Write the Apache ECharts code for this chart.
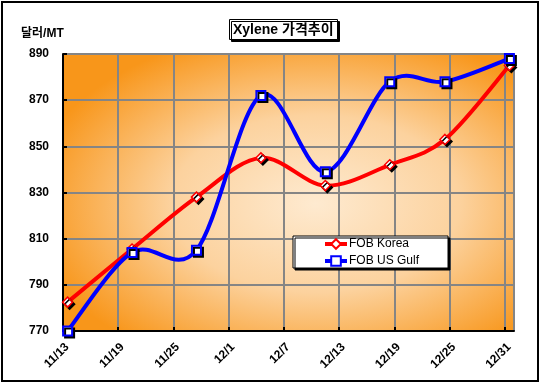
<!DOCTYPE html>
<html>
<head>
<meta charset="utf-8">
<script src="https://cdn.jsdelivr.net/npm/echarts@6/dist/echarts.min.js"></script>
<style>html,body{margin:0;padding:0;background:#fff;}#c{width:540px;height:383px;}</style>
</head>
<body>
<div id="c"></div>
<script>
const titleText = 'Xylene 가격추이';
const unitLabel = '달러/MT';
const tickLabels = ['11/13','11/19','11/25','12/1','12/7','12/13','12/19','12/25','12/31'];
const dates = ['11/13','11/20','11/27','12/4','12/11','12/18','12/24','12/31'];
const korea = [782.5, 805.5, 828, 845, 833, 842, 853, 885];
const usGulf = [770, 804, 805, 872, 839, 878, 878, 888];
const seriesNames = ['FOB Korea', 'FOB US Gulf'];
const seriesColors = ['#FF0000', '#0000FF'];

const startDay = new Date(2009, 10, 13);
function dayIndex(s) {
  const [m, d] = s.split('/').map(Number);
  const dt = new Date(2009, m - 1, d);
  return Math.round((dt - startDay) / 86400000);
}
const xs = dates.map(d => dayIndex(d) + 0.5);
const toPairs = arr => arr.map((v, i) => [xs[i], v]);

// Excel-like smoothed curve (Catmull-Rom, tension 1/6) through points mapped by the axes
function smoothCurve(values, color) {
  return function (params, api) {
    const p = values.map((v, i) => api.coord([xs[i], v]));
    const n = p.length;
    let d = 'M' + p[0][0] + ' ' + p[0][1];
    for (let i = 0; i < n - 1; i++) {
      const p0 = p[Math.max(i - 1, 0)], p1 = p[i], p2 = p[i + 1], p3 = p[Math.min(i + 2, n - 1)];
      const c1x = p1[0] + (p2[0] - p0[0]) / 6, c1y = p1[1] + (p2[1] - p0[1]) / 6;
      const c2x = p2[0] - (p3[0] - p1[0]) / 6, c2y = p2[1] - (p3[1] - p1[1]) / 6;
      d += ' C' + c1x + ' ' + c1y + ' ' + c2x + ' ' + c2y + ' ' + p2[0] + ' ' + p2[1];
    }
    return {
      type: 'path',
      shape: { pathData: d },
      style: { fill: 'none', stroke: color, lineWidth: 4, lineJoin: 'round' }
    };
  };
}

const FONT = "'Liberation Sans', Arial, 'Noto Sans CJK KR', sans-serif";
const GRID = { left: 63, right: 26, top: 54, bottom: 52 };
const plotW = 540 - GRID.left - GRID.right, plotH = 383 - GRID.top - GRID.bottom;

const chart = echarts.init(document.getElementById('c'));
chart.setOption({
  animation: false,
  backgroundColor: '#fff',
  textStyle: { fontFamily: FONT },
  title: {
    text: titleText,
    left: 229, top: 19,
    padding: [4, 4, 3, 4],
    backgroundColor: '#fff',
    borderColor: '#000', borderWidth: 1,
    shadowColor: '#000', shadowOffsetX: 2, shadowOffsetY: 2, shadowBlur: 0,
    textStyle: { fontFamily: FONT, fontSize: 14, fontWeight: 'bold', color: '#000' }
  },
  graphic: [
    {
      type: 'rect', x: GRID.left, y: GRID.top, scaleY: plotH / plotW, z: -10, silent: true,
      shape: { x: 0, y: 0, width: plotW, height: plotW },
      style: {
        fill: new echarts.graphic.RadialGradient(0.56, 0.54, 0.64, [
          { offset: 0, color: '#FEEAD0' },
          { offset: 0.5, color: '#FCD29E' },
          { offset: 1, color: '#F8961A' }
        ])
      }
    },
    { type: 'rect', shape: { x: 2, y: 2, width: 536, height: 379 }, style: { fill: 'none', stroke: '#000', lineWidth: 2 }, silent: true, z: 100 },
    { type: 'text', left: 21, top: 28, style: { text: unitLabel, font: "bold 12px " + FONT, fill: '#000' } }
  ],
  legend: {
    left: 293, top: 236,
    orient: 'vertical',
    backgroundColor: '#fff',
    borderColor: '#000', borderWidth: 1,
    shadowColor: '#000', shadowOffsetX: 2, shadowOffsetY: 2, shadowBlur: 0,
    padding: [2, 29, 1, 30],
    itemGap: 5,
    itemWidth: 22, itemHeight: 12,
    textStyle: { fontFamily: FONT, fontSize: 12, color: '#000', padding: [0, 0, 0, -3] },
    data: seriesNames.map((n, i) => ({ name: n, lineStyle: { color: seriesColors[i], width: 4, opacity: 1 } }))
  },
  grid: Object.assign({ show: false }, GRID),
  xAxis: {
    type: 'value',
    min: 0, max: 49, interval: 6,
    axisLine: { show: true, lineStyle: { color: '#000', width: 2 } },
    axisTick: { show: true, inside: true, length: 4, lineStyle: { color: '#000', width: 2 } },
    splitLine: { show: true, lineStyle: { color: '#858585', width: 2 } },
    axisLabel: {
      rotate: 45, margin: 10, verticalAlign: 'top',
      fontFamily: FONT, fontSize: 12, fontWeight: 'bold', color: '#000',
      showMaxLabel: false,
      formatter: v => (v % 6 === 0 ? tickLabels[v / 6] : '')
    }
  },
  yAxis: {
    type: 'value',
    min: 770, max: 890, interval: 20,
    axisLine: { show: true, lineStyle: { color: '#000', width: 2 } },
    axisTick: { show: true, inside: true, length: 4, lineStyle: { color: '#000', width: 2 } },
    splitLine: { show: true, lineStyle: { color: '#858585', width: 2 } },
    axisLabel: { margin: 14, fontFamily: FONT, fontSize: 12, fontWeight: 'bold', color: '#000' }
  },
  series: [
    {
      name: 'curveKorea', type: 'custom', data: [[xs[0], korea[0]]],
      renderItem: smoothCurve(korea, seriesColors[0]), z: 2, silent: true
    },
    {
      name: 'curveUS', type: 'custom', data: [[xs[0], usGulf[0]]],
      renderItem: smoothCurve(usGulf, seriesColors[1]), z: 3, silent: true
    },
    {
      name: seriesNames[0], type: 'line',
      data: toPairs(korea),
      symbol: 'diamond', symbolSize: 10,
      lineStyle: { color: seriesColors[0], width: 4, opacity: 0 },
      itemStyle: { color: '#fff', borderColor: seriesColors[0], borderWidth: 1.5, shadowColor: '#000', shadowOffsetX: 2, shadowOffsetY: 2, shadowBlur: 0 },
      z: 4
    },
    {
      name: seriesNames[1], type: 'line',
      data: toPairs(usGulf),
      symbol: 'rect', symbolSize: 9,
      lineStyle: { color: seriesColors[1], width: 4, opacity: 0 },
      itemStyle: { color: '#fff', borderColor: seriesColors[1], borderWidth: 2, shadowColor: '#000', shadowOffsetX: 2, shadowOffsetY: 2, shadowBlur: 0 },
      z: 5
    }
  ]
});
</script>
</body>
</html>
